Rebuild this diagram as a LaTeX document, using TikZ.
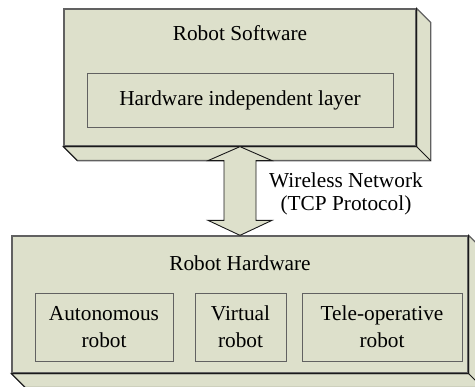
\documentclass[tikz,border=0pt]{standalone}
\usepackage{fontspec}
\setmainfont{Liberation Serif}
\usetikzlibrary{positioning}
\definecolor{CbF}{rgb}{0.867,0.878,0.796}
\definecolor{CbL}{rgb}{0.38,0.38,0.38}
\definecolor{CbD}{rgb}{0.1,0.1,0.1}
\tikzset{
face/.style={draw=CbL, fill=CbF, line width=1.3pt, line join=miter},
frontface/.style={face, rectangle, inner sep=0pt},
innerbox/.style={draw=CbL, fill=CbF, line width=0.9pt, inner sep=0pt, align=center, font=\fontsize{21.3}{27}\selectfont},
boxtitle/.style={inner sep=0pt, align=center, font=\fontsize{21.3}{23}\selectfont},
}

\begin{document}
\begin{tikzpicture}[x=1pt, y=-1pt]
\useasboundingbox (0,0) rectangle (475,387);

%% Definitions
\pgfmathsetmacro{\dpth}{14}

\newcommand\drawdepth[1]
{
% front node: #1
\draw[face] (#1.north east) -- ([shift={(\dpth,\dpth)}]#1.north east)
-- ([shift={(\dpth,\dpth)}]#1.south east)
-- ([shift={(\dpth,\dpth)}]#1.south west)
-- (#1.south west) -- (#1.south east) -- cycle;
\draw[CbD, line width=1.1pt] (#1.south west) -- (#1.south east) -- (#1.north east);
\draw[CbD, line width=0.8pt] (#1.south east) -- ([shift={(\dpth,\dpth)}]#1.south east);
\draw[CbD, line width=0.8pt] (#1.south west) -- ([shift={(\dpth,\dpth)}]#1.south west);
}

% --------------------------------------------------------

%% software
\node[frontface, minimum width=352pt, minimum height=137pt] (soft) at (240,77.5) {};
\drawdepth{soft}
\node[boxtitle] (softlbl) at (240,33) {Robot Software};
\node[innerbox, minimum width=306pt, minimum height=54pt] (layer) at (240,100) {Hardware independent layer};

% --------------------------------------------------------

%% hardware
\node[frontface, minimum width=456pt, minimum height=137pt] (hard) at (240,304.5) {};
\drawdepth{hard}
\node[boxtitle] (hardlbl) at (240,263) {Robot Hardware};

\node[innerbox, minimum width=138pt, minimum height=68pt] (auto) at (104,327) {Autonomous\\robot};
\node[innerbox, minimum width=91pt, minimum height=68pt] (virt) at (240.5,327) {Virtual\\robot};
\node[innerbox, minimum width=160pt, minimum height=68pt] (tele) at (382,327) {Tele-operative\\robot};

% --------------------------------------------------------

%% network arrow
\draw[fill=CbF, draw=CbD, line width=0.9pt] (soft.south) -- ++(32,14) -- ++(-16,0)
-- ([shift={(16,-15)}]hard.north) -- ++(16,0) -- (hard.north)
-- ++(-32,-15) -- ++(16,0)
-- ([shift={(-16,14)}]soft.south) -- ++(-16,0) -- cycle;
\node[boxtitle] (net) at (346,193.5) {Wireless Network\\(TCP Protocol)};

\end{tikzpicture}
\end{document}
